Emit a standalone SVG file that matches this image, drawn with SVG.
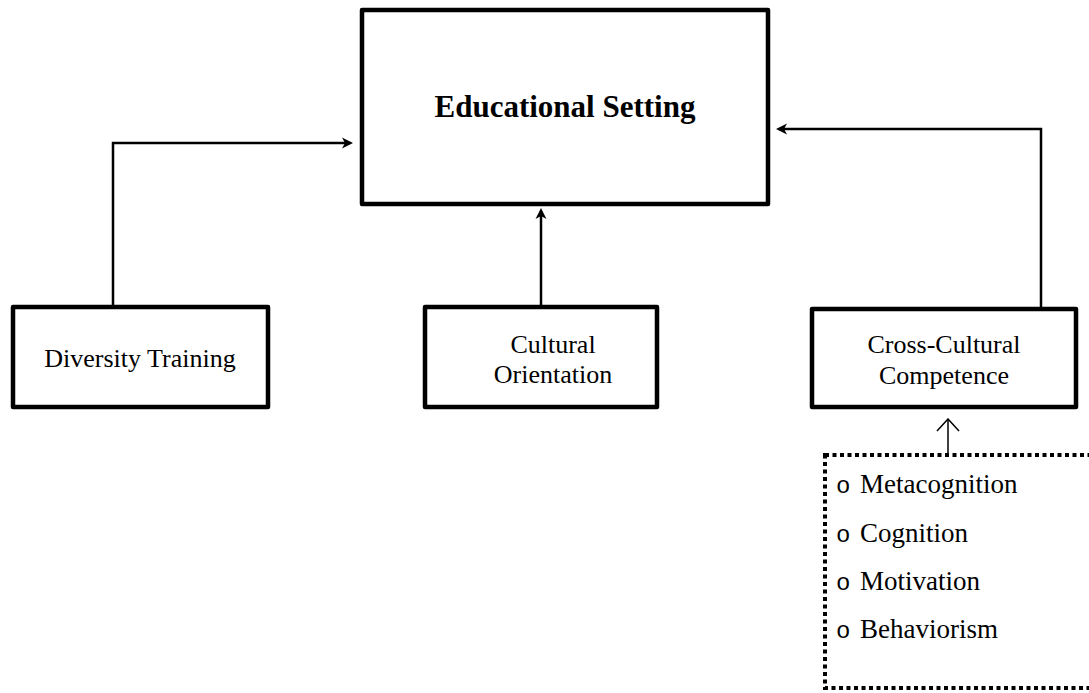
<svg xmlns="http://www.w3.org/2000/svg" width="1089" height="693" viewBox="0 0 1089 693">
<style>
.box{fill:#fff;stroke:#000;stroke-width:4.5;stroke-linejoin:round}
.lbl{font-family:"Liberation Serif","Times New Roman",serif;font-size:26px;fill:#000;text-anchor:middle}
.title{font-family:"Liberation Serif","Times New Roman",serif;font-size:31px;font-weight:bold;fill:#000;text-anchor:middle}
.item{font-family:"Liberation Serif","Times New Roman",serif;font-size:27px;fill:#000}
.bul{font-family:"Liberation Mono","Courier New",monospace;font-size:24px;fill:#000}
.conn{fill:none;stroke:#000;stroke-width:2.5}
.thin{fill:none;stroke:#000;stroke-width:1.5}
</style>
<defs>
<marker id="arr" viewBox="-12 -6 13 12" refX="-3" refY="0" markerWidth="13" markerHeight="12" markerUnits="userSpaceOnUse" orient="auto">
<path d="M-11,-5.5 L0,0 L-11,5.5 L-8,0 Z" fill="#000"/>
</marker>
<marker id="open" viewBox="-13 -12 14 24" refX="0" refY="0" markerWidth="14" markerHeight="24" markerUnits="userSpaceOnUse" orient="auto">
<path d="M-12,-11 L0,0 L-12,11" fill="none" stroke="#000" stroke-width="1.5"/>
</marker>
</defs>
<rect width="1089" height="693" fill="#fff"/>
<g id="connectors">
<path class="conn" d="M113,307 V143 H350" marker-end="url(#arr)"/>
<path class="conn" d="M541,307 V211" marker-end="url(#arr)"/>
<path class="conn" d="M1041,309 V129 H779" marker-end="url(#arr)"/>
<path class="thin" d="M948,455 V419" marker-end="url(#open)"/>
</g>
<g id="educational-setting">
<rect class="box" x="362" y="10" width="406" height="194"/>
<text class="title" x="565" y="117">Educational Setting</text>
</g>
<g id="diversity-training">
<rect class="box" x="13" y="307" width="255" height="100"/>
<text class="lbl" x="140" y="367">Diversity Training</text>
</g>
<g id="cultural-orientation">
<rect class="box" x="425" y="307" width="232" height="100"/>
<text class="lbl" x="553" y="353">Cultural</text>
<text class="lbl" x="553" y="383">Orientation</text>
</g>
<g id="cross-cultural-competence">
<rect class="box" x="812" y="309" width="264" height="98"/>
<text class="lbl" x="944" y="353">Cross-Cultural</text>
<text class="lbl" x="944" y="384">Competence</text>
</g>
<g id="components">
<rect x="825" y="455" width="290" height="233" fill="none" stroke="#000" stroke-width="4" stroke-dasharray="4 3.5"/>
<text class="bul" x="836" y="493">o</text><text class="item" x="860" y="493">Metacognition</text>
<text class="bul" x="836" y="542">o</text><text class="item" x="860" y="542">Cognition</text>
<text class="bul" x="836" y="590">o</text><text class="item" x="860" y="590">Motivation</text>
<text class="bul" x="836" y="638">o</text><text class="item" x="860" y="638">Behaviorism</text>
</g>
</svg>
